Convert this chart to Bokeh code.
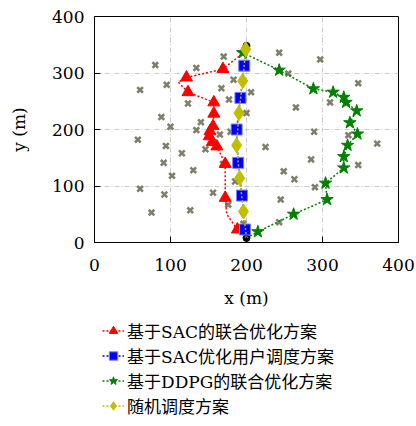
from bokeh.plotting import figure
from bokeh.layouts import column
from bokeh.models import Legend, LegendItem, Range1d, FixedTicker
from bokeh.embed import file_html
from bokeh.resources import INLINE

# ---- data ----
ticks = [0, 100, 200, 300, 400]
start_end_x = [200, 200]
start_end_y = [8, 348]

users_x = [80, 60, 95, 123, 88, 100, 134, 170, 167, 183, 177, 206, 140, 200, 134, 165, 179,
           57, 94, 115, 146, 91, 130, 169, 102, 185, 60, 92, 156, 176, 75, 126, 196,
           243, 297, 255, 347, 310, 265, 289, 334, 372, 225, 285, 347, 249, 263, 290, 245, 243]
users_y = [314, 270, 279, 246, 222, 205, 309, 329, 273, 288, 253, 266, 213, 229, 199, 191, 196,
           182, 171, 158, 165, 141, 128, 139, 118, 108, 95, 85, 88, 67, 53, 57, 33,
           336, 324, 299, 282, 248, 239, 196, 190, 175, 169, 147, 137, 126, 112, 98, 76, 36]

# SAC joint optimisation (path and markers)
sac_path_x = [200, 188, 174, 172, 172, 161, 155, 151, 152, 156, 157, 157, 123, 110, 121, 169, 200]
sac_path_y = [8, 23, 50, 79, 139, 170, 178, 188, 197, 206, 228, 248, 266, 284, 292, 307, 340]
sac_x = [188, 172, 172, 161, 155, 151, 152, 156, 157, 157, 123, 121, 169]
sac_y = [23, 79, 139, 170, 178, 188, 197, 206, 228, 248, 266, 292, 307]

# SAC user scheduling only
sched_path_x = [200, 198, 194, 189, 187, 192, 197, 200]
sched_path_y = [8, 23, 83, 141, 200, 256, 313, 348]
sched_x = [198, 194, 189, 187, 192, 197]
sched_y = [23, 83, 141, 200, 256, 313]

# DDPG joint optimisation
ddpg_path_x = [200, 215, 262, 306, 304, 328, 328, 333, 346, 336, 345, 331, 328, 314, 288, 243, 195, 200]
ddpg_path_y = [8, 19, 50, 76, 105, 132, 152, 172, 192, 212, 233, 248, 257, 266, 272, 305, 336, 348]
ddpg_x = [215, 262, 306, 304, 328, 328, 333, 346, 336, 345, 331, 328, 314, 288, 243, 195]
ddpg_y = [19, 50, 76, 105, 132, 152, 172, 192, 212, 233, 248, 257, 266, 272, 305, 336]

# random scheduling
rand_path_x = [200, 196, 191, 187, 190, 195, 199, 200]
rand_path_y = [8, 55, 114, 172, 229, 286, 342, 348]
rand_x = [196, 191, 187, 190, 195, 199]
rand_y = [55, 114, 172, 229, 286, 342]

labels = ["基于SAC的联合优化方案", "基于SAC优化用户调度方案", "基于DDPG的联合优化方案", "随机调度方案"]

SERIF = "'DejaVu Serif', 'Noto Sans CJK SC'"

styles = [
    dict(color="#ff0000", marker="triangle", size=12, edge="#ff0000"),
    dict(color="#0000ff", marker="square", size=11, edge="#7f7fff"),
    dict(color="#008000", marker="star", size=13, edge="#008000"),
    dict(color="#bfbf00", marker="diamond", size=15, edge="#bfbf00"),
]
dash = "2 2"

p = figure(width=416, height=310, output_backend="svg", toolbar_location=None,
           x_range=Range1d(0, 400), y_range=Range1d(0, 400),
           min_border_left=94, min_border_right=18, min_border_top=16, min_border_bottom=67)
p.outline_line_color = "black"
p.outline_line_width = 1
p.background_fill_color = "white"
p.border_fill_color = "white"

for ax in (p.xaxis, p.yaxis):
    ax.ticker = FixedTicker(ticks=ticks)
    ax.major_tick_in = 6
    ax.major_tick_out = 0
    ax.minor_tick_line_color = None
    ax.axis_line_color = "black"
    ax.major_label_text_font = SERIF
    ax.major_label_text_font_size = "17px"
    ax.major_label_text_color = "black"
    ax.axis_label_text_font = SERIF
    ax.axis_label_text_font_size = "17px"
    ax.axis_label_text_font_style = "normal"
    ax.axis_label_text_color = "black"
p.xaxis.axis_label = "x (m)"
p.yaxis.axis_label = "y (m)"
p.xaxis.major_label_standoff = 16
p.yaxis.major_label_standoff = 10
p.xaxis.axis_label_standoff = 14
p.yaxis.axis_label_standoff = 20

p.grid.grid_line_color = "#cccccc"
p.grid.grid_line_dash = "5 2 1 2"
p.grid.grid_line_width = 1
p.xgrid.ticker = FixedTicker(ticks=ticks)
p.ygrid.ticker = FixedTicker(ticks=ticks)

# users
p.scatter(users_x, users_y, marker="x", size=8, line_color="#7f7f6c", line_width=2.6)

# start / end points
p.scatter(start_end_x, start_end_y, marker="circle", size=7, fill_color="black", line_color="black")

series = [(sac_path_x, sac_path_y, sac_x, sac_y),
          (sched_path_x, sched_path_y, sched_x, sched_y),
          (ddpg_path_x, ddpg_path_y, ddpg_x, ddpg_y),
          (rand_path_x, rand_path_y, rand_x, rand_y)]
for (px_, py_, mx, my), st in zip(series, styles):
    p.line(px_, py_, line_color=st["color"], line_width=1.5, line_dash=dash)
    p.scatter(mx, my, marker=st["marker"], size=st["size"], fill_color=st["color"], line_color=st["edge"])

# legend panel below (same series, ranges kept out of view so only the legend shows)
q = figure(width=416, height=116, output_backend="svg", toolbar_location=None,
           x_range=Range1d(1000, 1001), y_range=Range1d(1000, 1001),
           min_border_left=94, min_border_right=18, min_border_top=0, min_border_bottom=0)
q.axis.visible = False
q.grid.visible = False
q.outline_line_color = None
q.background_fill_color = "white"
q.border_fill_color = "white"

items = []
for (px_, py_, mx, my), st, lab in zip(series, styles, labels):
    rl = q.line(px_, py_, line_color=st["color"], line_width=1.5, line_dash=dash)
    rm = q.scatter(mx, my, marker=st["marker"], size=st["size"] - 1, fill_color=st["color"], line_color=st["edge"])
    items.append(LegendItem(label=lab, renderers=[rl, rm]))

legend = Legend(items=items, location=(8, 8), orientation="vertical")
legend.border_line_color = None
legend.background_fill_alpha = 0
legend.label_text_font = SERIF
legend.label_text_font_size = "17px"
legend.label_text_color = "black"
legend.label_height = 21
legend.glyph_height = 21
legend.glyph_width = 22
legend.label_standoff = 3
legend.spacing = 0
legend.padding = 0
legend.margin = 0
q.add_layout(legend, "center")

open("out.html", "w").write(file_html(column(p, q, spacing=0), INLINE))
